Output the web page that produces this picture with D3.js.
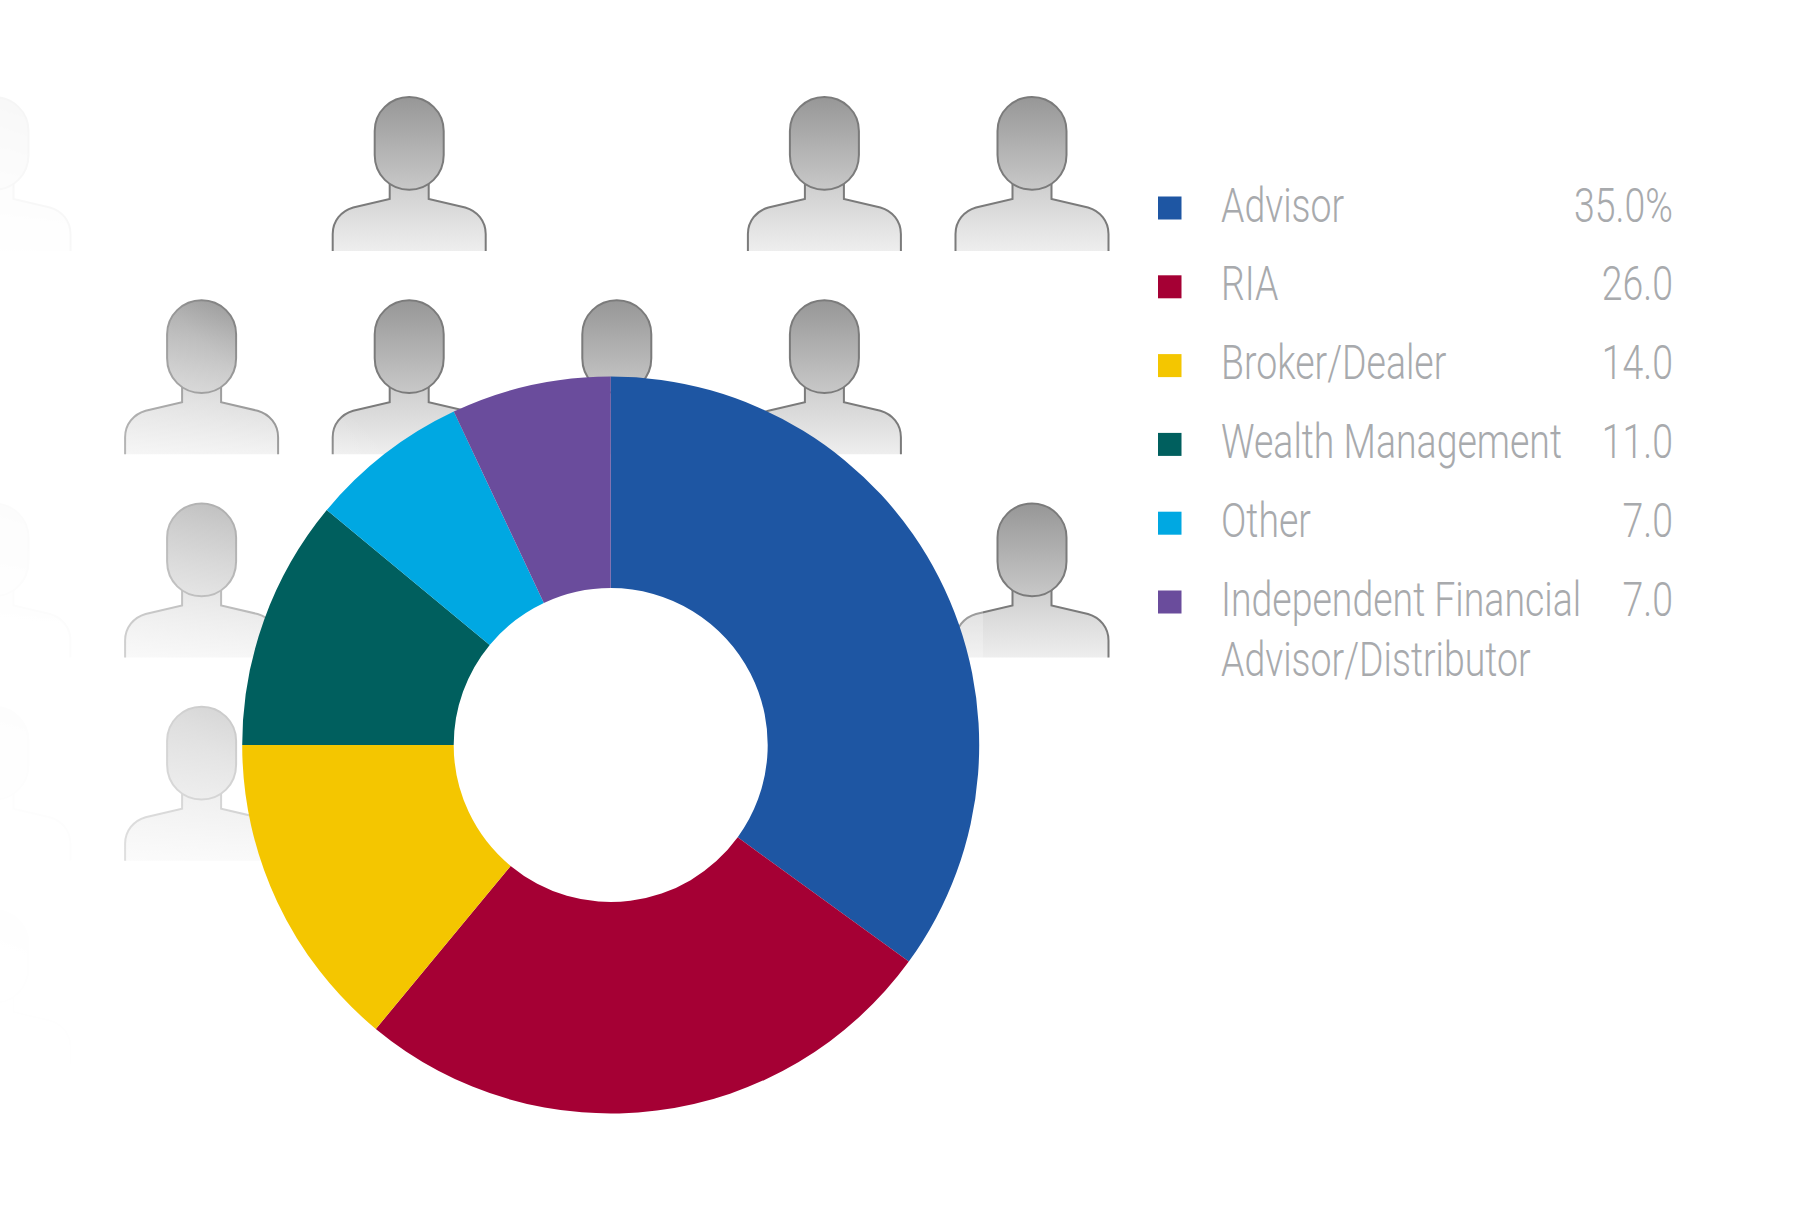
<!DOCTYPE html>
<html><head><meta charset="utf-8">
<script src="https://cdn.jsdelivr.net/npm/d3@7"></script>
<style>html,body{margin:0;padding:0;background:#fff}svg{display:block}text{font-family:Roboto,sans-serif;font-weight:300;fill:#a8aaad}</style>
</head><body><svg id="c" width="1818" height="1212"></svg>
<script>
const categories = ["Advisor","RIA","Broker/Dealer","Wealth Management","Other","Independent Financial"];
const extraLine = ["","","","","","Advisor/Distributor"];
const values = [35,26,14,11,7,7];
const valueLabels = ["35.0%","26.0","14.0","11.0","7.0","7.0"];
const colors = ["#1e56a3","#a50034","#f4c600","#005f5e","#00a8e2","#6a4c9c"];
const personCols = [0,1,2,3,4,5];
const personRows = [0,1,2,3,4];
const people = [[0,0],[2,0],[4,0],[5,0],[1,1],[2,1],[3,1],[4,1],[0,2],[1,2],[5,2],[0,3],[1,3],[0,4]];

const svg = d3.select("#c");
const defs = svg.append("defs");
function grad(id, attrs, stops){
  const g = defs.append("linearGradient").attr("id",id);
  Object.entries(attrs).forEach(([k,v])=>g.attr(k,v));
  stops.forEach(s=>g.append("stop").attr("offset",s[0]).attr("stop-color",s[1]).attr("stop-opacity",s[2]===undefined?1:s[2]));
}
grad("head",{x1:0,y1:0,x2:0,y2:1},[[0,"#979797"],[1,"#c8c8c8"]]);
grad("body",{x1:0,y1:0,x2:0,y2:1},[[0,"#cdcdcd"],[1,"#eeeeee"]]);
grad("fade",{gradientUnits:"userSpaceOnUse",x1:400,y1:200,x2:-300,y2:900},
  [[130/700,"#fff",0],[170/700,"#fff",.22],[205/700,"#fff",.32],[265/700,"#fff",.45],[370/700,"#fff",.66],[600/700,"#fff",.9]]);

const xP = d3.scaleLinear().domain([0,5]).range([-6,1032]);
const yP = d3.scaleLinear().domain([0,4]).range([97,910]);
const headD = "M-34.5,34C-34.5,15 -19,0 0,0C19,0 34.5,15 34.5,34L34.5,58C34.5,78 19,92.7 0,92.7C-19,92.7 -34.5,78 -34.5,58Z";
const bodyD = "M-76.5,154L-76.5,137C-76.5,124 -68,114 -56,110.5L-19.5,102L-19.5,85L19.5,85L19.5,102L56,110.5C68,114 76.5,124 76.5,137L76.5,154";
const gp = svg.append("g").selectAll("g").data(people).join("g")
  .attr("transform",d=>`translate(${xP(personCols[d[0]])},${yP(personRows[d[1]])})`);
gp.append("path").attr("d",bodyD+"Z").attr("fill","url(#body)");
gp.append("path").attr("d",bodyD).attr("fill","none").attr("stroke","#7b7b7b").attr("stroke-width",2);
gp.append("path").attr("d",headD).attr("fill","url(#head)").attr("stroke","#7b7b7b").attr("stroke-width",2);

svg.append("rect").attr("x",0).attr("y",0).attr("width",983).attr("height",1212).attr("fill","url(#fade)");
svg.append("rect").attr("x",0).attr("y",0).attr("width",100).attr("height",1212).attr("fill","#fff").attr("opacity",.92);
svg.append("rect").attr("x",940).attr("y",480).attr("width",43).attr("height",190).attr("fill","#fff").attr("opacity",.25);

const arc = d3.arc().innerRadius(157).outerRadius(368.5);
svg.append("g").attr("transform","translate(610.7,745)").selectAll("path")
  .data(d3.pie().sort(null)(values)).join("path").attr("d",arc).attr("fill",(d,i)=>colors[i]);

const yL = d3.scaleLinear().domain([0,5]).range([221.5,615.5]);
const k = 0.764, fs = 49;
const lg = svg.append("g").selectAll("g").data(categories).join("g");
lg.append("rect").attr("x",1158).attr("y",(d,i)=>yL(i)-25).attr("width",23.5).attr("height",23).attr("fill",(d,i)=>colors[i]);
function txt(sel,x,yf,tf,anchor){
  sel.append("text").attr("transform",(d,i)=>`translate(${x},${yf(i)}) scale(${k},1)`)
    .attr("font-size",fs).attr("text-anchor",anchor).text(tf);
}
txt(lg,1221,i=>yL(i),d=>d,"start");
txt(lg,1221,i=>yL(i)+60,(d,i)=>extraLine[i],"start");
txt(lg,1673,i=>yL(i),(d,i)=>valueLabels[i],"end");
</script></body></html>
